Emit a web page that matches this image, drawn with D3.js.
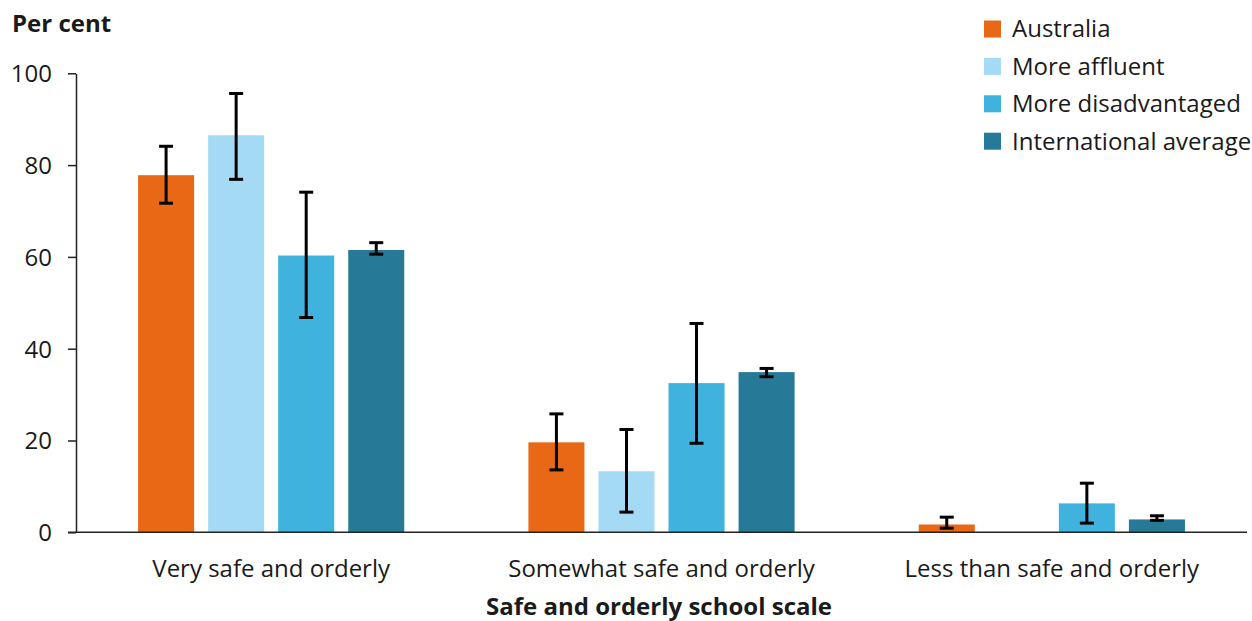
<!DOCTYPE html>
<html><head><meta charset="utf-8">
<script src="https://cdn.jsdelivr.net/npm/d3@7"></script>
<style>
body{margin:0;background:#fff;}
text{font-family:"Open Sans","Noto Sans",sans-serif;fill:#1a1a1a;}
</style></head>
<body><svg id="c" width="1252" height="621"></svg>
<script>
const categories = ["Very safe and orderly","Somewhat safe and orderly","Less than safe and orderly"];
const seriesNames = ["Australia","More affluent","More disadvantaged","International average"];
const colors = ["#E96815","#A4DAF3","#3FB2DD","#267A97"];
const australia     = [77.8, 19.6, 1.7];
const australiaLo   = [71.7, 13.6, 0.9];
const australiaHi   = [84.1, 25.8, 3.3];
const affluent      = [86.5, 13.3, null];
const affluentLo    = [76.9, 4.4, null];
const affluentHi    = [95.6, 22.4, null];
const disadvantaged = [60.3, 32.5, 6.3];
const disadvLo      = [46.8, 19.4, 2.0];
const disadvHi      = [74.1, 45.5, 10.7];
const intl          = [61.5, 34.9, 2.8];
const intlLo        = [60.6, 33.9, 2.6];
const intlHi        = [63.1, 35.7, 3.6];
const yTicks = [0,20,40,60,80,100];

const values = [australia, affluent, disadvantaged, intl];
const los = [australiaLo, affluentLo, disadvLo, intlLo];
const his = [australiaHi, affluentHi, disadvHi, intlHi];

const svg = d3.select("#c");
const y = d3.scaleLinear().domain([0,100]).range([532.3,73.3]);
const x0 = d3.scaleBand().domain(categories).range([76,1247]);
const x1 = d3.scaleBand().domain(seriesNames).range([0,x0.bandwidth()]).paddingInner(0.2).paddingOuter(0.886);

// bars
categories.forEach((c,ci)=>{
  seriesNames.forEach((s,si)=>{
    const v = values[si][ci];
    if(v==null) return;
    const bx = x0(c)+x1(s);
    svg.append("rect").attr("x",bx).attr("y",y(v)).attr("width",x1.bandwidth())
      .attr("height",y(0)-y(v)).attr("fill",colors[si]);
  });
});
// error bars
categories.forEach((c,ci)=>{
  seriesNames.forEach((s,si)=>{
    const lo = los[si][ci], hi = his[si][ci];
    if(lo==null) return;
    const cx = x0(c)+x1(s)+x1.bandwidth()/2;
    const g = svg.append("g").attr("stroke","#000").attr("stroke-width",3);
    g.append("line").attr("x1",cx).attr("x2",cx).attr("y1",y(hi)).attr("y2",y(lo));
    g.append("line").attr("x1",cx-7).attr("x2",cx+7).attr("y1",y(hi)).attr("y2",y(hi));
    g.append("line").attr("x1",cx-7).attr("x2",cx+7).attr("y1",y(lo)).attr("y2",y(lo));
  });
});

// y axis
const ya = svg.append("g").attr("transform","translate(76,0)")
  .call(d3.axisLeft(y).tickValues(yTicks).tickSize(8).tickPadding(16).tickSizeOuter(0));
ya.select(".domain").attr("stroke","#222").attr("stroke-width",1.5);
ya.selectAll(".tick line").attr("stroke","#222").attr("stroke-width",1.5);
ya.selectAll(".tick text").style("font-size","24px").attr("fill","#1a1a1a").attr("dy","0.35em");

// x axis
const xa = svg.append("g").attr("transform",`translate(0,${y(0)})`)
  .call(d3.axisBottom(x0).tickSize(0).tickPadding(28));
xa.select(".domain").attr("stroke","#222").attr("stroke-width",1.5).attr("d",`M68,0H1247`);
xa.selectAll(".tick text").style("font-size","24px").attr("fill","#1a1a1a");

svg.append("text").attr("x",12).attr("y",32).style("font-size","24px").style("font-weight","700").text("Per cent");
svg.append("text").attr("x",659).attr("y",615).attr("text-anchor","middle").style("font-size","24px").style("font-weight","700").text("Safe and orderly school scale");

// legend
const lg = svg.append("g");
seriesNames.forEach((s,i)=>{
  const cy = 29 + i*37.4;
  lg.append("rect").attr("x",984).attr("y",cy-8.5).attr("width",17).attr("height",17).attr("fill",colors[i]);
  lg.append("text").attr("x",1012).attr("y",cy).attr("dy","0.35em").style("font-size","24px").text(s);
});
</script></body></html>
